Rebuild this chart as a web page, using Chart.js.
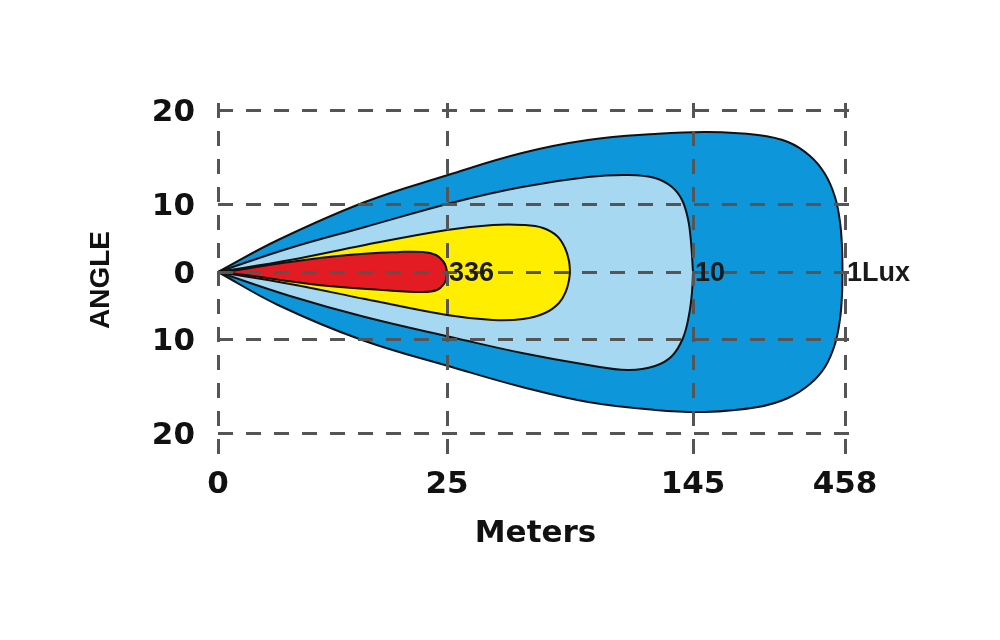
<!DOCTYPE html>
<html>
<head>
<meta charset="utf-8">
<script src="https://cdn.jsdelivr.net/npm/chart.js@4.4.1/dist/chart.umd.min.js"></script>
<style>
  html, body { margin: 0; padding: 0; background: #fff; }
  #wrap { width: 1000px; height: 640px; }
</style>
</head>
<body>
<div id="wrap"><canvas id="beamChart" width="1000" height="640"></canvas></div>
<script>
// Axis ticks (x and y are drawn in the picture's own distorted spacing)
const xTickPos = [0, 229, 475, 627];
const xTickLabels = ["0", "25", "145", "458"];
const yTickPos = [162, 68, 0, -67, -161];
const yTickLabels = ["20", "10", "0", "10", "20"];

// Lux labels, placed at the x ticks 25 / 145 / 458
const luxLabels = ["336", "10", "1Lux"];

// Lobe outlines: [x, y]
const redTop = [[0, 0], [20, 2], [64, 9], [130, 17], [182, 20], [205, 20], [218, 17], [225, 11], [228, 5], [229, 0]];
const redBottom = [[0, 0], [20, -2], [100, -13], [164, -18], [205, -20], [219, -18], [226, -12], [228.5, -5], [229, 0]];

const yellowTop = [[0, 0], [72, 12], [147, 27], [229, 42], [275, 47], [305, 47], [325, 44], [339, 36], [347, 24], [351, 11], [352, 0]];
const yellowBottom = [[0, 0], [72, -12], [147, -27], [229, -43], [275, -48], [305, -47], [327, -41], [341, -31], [348, -19], [351, -8], [352, 0]];

const lightTop = [[0, 0], [72, 24], [147, 45], [237, 70], [304, 85], [370, 95], [410, 97], [437, 94], [454, 85], [464, 72], [470, 53], [473, 30], [475, 0]];
const lightBottom = [[0, 0], [72, -24], [147, -45], [237, -66], [304, -81], [370, -93], [410, -98], [437, -94], [454, -84], [465, -66], [471, -43], [474, -20], [475, 0]];

const darkTop = [[0, 0], [60, 32], [147, 70], [230, 97], [304, 119], [370, 132], [437, 138], [490, 140], [540, 137], [570, 130], [592, 116], [607, 98], [617, 75], [622, 50], [624, 25], [624.5, 0]];
const darkBottom = [[0, 0], [60, -33], [144, -68], [237, -96], [304, -115], [370, -130], [437, -138], [487, -140], [540, -135], [570, -126], [592, -112], [607, -95], [617, -72], [622, -47], [624, -23], [624.5, 0]];

function lobe(points, color) {
  return {
    data: points.map(p => ({ x: p[0], y: p[1] })),
    backgroundColor: color,
    borderColor: "#111",
    borderWidth: 2,
    pointRadius: 0,
    fill: "origin",
    tension: 0.4
  };
}

const luxLabelPlugin = {
  id: "luxLabels",
  afterDraw(chart) {
    const ctx = chart.ctx;
    const x = chart.scales.x;
    const y = chart.scales.y;
    ctx.save();
    ctx.font = 'bold 27px "Liberation Sans"';
    ctx.fillStyle = "#1a1a1a";
    ctx.textBaseline = "middle";
    ctx.textAlign = "left";
    luxLabels.forEach((txt, i) => {
      ctx.fillText(txt, x.getPixelForValue(xTickPos[i + 1]) + 2, y.getPixelForValue(0) + 2);
    });
    ctx.restore();
  }
};

const gridStyle = { color: "#555", lineWidth: 3, drawTicks: false, z: 1 };
const borderStyle = { display: false, dash: [15, 13] };

new Chart(document.getElementById("beamChart").getContext("2d"), {
  type: "line",
  data: {
    datasets: [
      lobe(redTop, "#e31b23"),
      lobe(redBottom, "#e31b23"),
      lobe(yellowTop, "#ffee00"),
      lobe(yellowBottom, "#ffee00"),
      lobe(lightTop, "#a6d8f2"),
      lobe(lightBottom, "#a6d8f2"),
      lobe(darkTop, "#0e96da"),
      lobe(darkBottom, "#0e96da")
    ]
  },
  options: {
    responsive: false,
    animation: false,
    layout: { padding: { top: 103, right: 147, left: 0, bottom: 0 } },
    plugins: {
      legend: { display: false },
      tooltip: { enabled: false }
    },
    scales: {
      x: {
        type: "linear",
        min: 0,
        max: 635,
        grid: gridStyle,
        border: borderStyle,
        afterBuildTicks: scale => { scale.ticks = xTickPos.map(v => ({ value: v })); },
        afterFit: scale => { scale.height = 183; },
        ticks: {
          autoSkip: false,
          maxRotation: 0,
          padding: 9,
          color: "#111",
          font: { family: "DejaVu Sans", weight: "bold", size: 31 },
          callback: (v, i) => xTickLabels[i]
        },
        title: {
          display: true,
          text: "Meters",
          color: "#111",
          font: { family: "DejaVu Sans", weight: "bold", size: 31 },
          padding: { top: 0, bottom: 87 }
        }
      },
      y: {
        type: "linear",
        min: -185,
        max: 169,
        grid: gridStyle,
        border: borderStyle,
        afterBuildTicks: scale => { scale.ticks = yTickPos.map(v => ({ value: v })); },
        afterFit: scale => { scale.width = 218; },
        ticks: {
          autoSkip: false,
          padding: 23,
          labelOffset: 3,
          color: "#111",
          font: { family: "DejaVu Sans", weight: "bold", size: 31 },
          callback: (v, i) => yTickLabels[i]
        },
        title: {
          display: true,
          text: "ANGLE",
          color: "#111",
          font: { family: "Liberation Sans", weight: "bold", size: 28 },
          padding: { top: 84, bottom: 0 }
        }
      }
    }
  },
  plugins: [luxLabelPlugin]
});
</script>
</body>
</html>
